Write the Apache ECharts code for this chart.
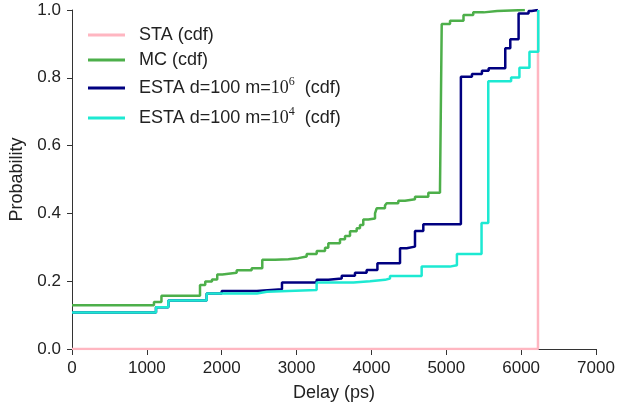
<!DOCTYPE html>
<html>
<head>
<meta charset="utf-8">
<script src="https://cdn.jsdelivr.net/npm/echarts@6/dist/echarts.min.js"></script>
<style>
html, body { margin: 0; padding: 0; background: #fff; }
#main { width: 626px; height: 404px; }
</style>
</head>
<body>
<div id="main"></div>
<script>
// step cdf data, each y holds from its x until the next x
var staX = [0, 6225, 6225];
var staY = [0, 0, 1];

var mcX = [0, 1095, 1195, 1710, 1780, 1870, 1940, 2008, 2200, 2400, 2542, 2712, 2890, 3023, 3135, 3269, 3380, 3424, 3580, 3647, 3714, 3803, 3847, 3891, 3958, 4048, 4070, 4181, 4204, 4359, 4449, 4582, 4760, 4916, 4939, 5050, 5230, 5360, 5500, 5680, 6050];
var mcY = [0.129, 0.139, 0.157, 0.189, 0.199, 0.205, 0.220, 0.225, 0.232, 0.238, 0.263, 0.265, 0.268, 0.273, 0.280, 0.289, 0.299, 0.312, 0.324, 0.333, 0.347, 0.356, 0.366, 0.382, 0.385, 0.400, 0.415, 0.423, 0.430, 0.437, 0.442, 0.449, 0.461, 0.471, 0.959, 0.968, 0.985, 0.993, 0.997, 1.0, 1.0];

var esta6X = [0, 1122, 1287, 1799, 2000, 2470, 2805, 3268, 3425, 3603, 3780, 3936, 4080, 4382, 4471, 4582, 4693, 5195, 5343, 5476, 5566, 5788, 5855, 5966, 6099, 6140, 6225];
var esta6Y = [0.108, 0.123, 0.143, 0.164, 0.171, 0.176, 0.196, 0.204, 0.208, 0.216, 0.225, 0.233, 0.253, 0.297, 0.302, 0.348, 0.368, 0.803, 0.811, 0.821, 0.828, 0.887, 0.914, 0.990, 0.997, 1.0, 1.0];

var esta4X = [0, 1122, 1287, 1799, 2470, 2604, 3268, 3760, 3981, 4181, 4248, 4671, 5048, 5142, 5471, 5561, 5866, 5977, 6111, 6229, 6229];
var esta4Y = [0.108, 0.123, 0.143, 0.164, 0.169, 0.174, 0.196, 0.200, 0.204, 0.208, 0.215, 0.243, 0.247, 0.280, 0.372, 0.790, 0.801, 0.830, 0.877, 0.877, 1.0];

var names = ['STA (cdf)', 'MC (cdf)', 'ESTA d=100 m=10^6  (cdf)', 'ESTA d=100 m=10^4  (cdf)'];
var colors = ['#ffb6c1', '#4daf4a', '#000080', '#1de9d2'];
var legendTops = [33, 58, 87, 117];

function pairs(xs, ys) {
    var out = [];
    for (var i = 0; i < xs.length; i++) out.push([xs[i], ys[i]]);
    return out;
}

var seriesData = [pairs(staX, staY), pairs(mcX, mcY), pairs(esta6X, esta6Y), pairs(esta4X, esta4Y)];

var myChart = echarts.init(document.getElementById('main'));
var option = {
    animation: false,
    textStyle: { fontFamily: 'Liberation Sans' },
    grid: { left: 72, right: 30, top: 10, bottom: 55, outerBoundsMode: 'none' },
    legend: names.map(function (n, i) {
        var rich = n.indexOf('^') >= 0;
        return {
            data: [n],
            left: 83,
            top: legendTops[i] - (rich ? 16 : 12),
            icon: 'rect',
            itemWidth: 37,
            itemHeight: 3,
            formatter: function (name) {
                var m = name.match(/^(.*m=)10\^(\d)(.*)$/);
                if (!m) return '{a|' + name + '}';
                return '{a|' + m[1] + '}{b|10}{c|' + m[2] + '}{a|' + m[3] + '}';
            },
            textStyle: {
                padding: [0, 0, 0, 9],
                rich: {
                    a: { fontSize: 18, color: '#222', fontFamily: 'Liberation Sans', lineHeight: 24 },
                    b: { fontSize: 18, color: '#222', fontFamily: 'Liberation Serif', lineHeight: 24 },
                    c: { fontSize: 12, color: '#222', fontFamily: 'Liberation Serif', lineHeight: 14, verticalAlign: 'top' }
                }
            }
        };
    }),
    xAxis: {
        type: 'value',
        min: 0,
        max: 7000,
        interval: 1000,
        name: 'Delay (ps)',
        nameLocation: 'middle',
        nameGap: 35,
        nameTextStyle: { fontSize: 18, color: '#222' },
        axisLine: { lineStyle: { color: '#333', width: 1 } },
        axisTick: { length: 6, lineStyle: { color: '#333' } },
        axisLabel: {
            fontSize: 17, color: '#222', margin: 11,
            formatter: function (v) { return String(v); }
        },
        splitLine: { show: false }
    },
    yAxis: {
        type: 'value',
        min: 0,
        max: 1,
        interval: 0.2,
        name: 'Probability',
        nameLocation: 'middle',
        nameGap: 45,
        nameTextStyle: { fontSize: 18, color: '#222' },
        axisLine: { show: true, lineStyle: { color: '#333', width: 1 } },
        axisTick: { show: true, length: 5, lineStyle: { color: '#333' } },
        axisLabel: {
            fontSize: 17, color: '#222', margin: 11,
            formatter: function (v) { return v.toFixed(1); }
        },
        splitLine: { show: false }
    },
    series: names.map(function (n, i) {
        return {
            name: n,
            type: 'line',
            step: 'end',
            symbol: 'none',
            data: seriesData[i],
            itemStyle: { color: colors[i] },
            lineStyle: { color: colors[i], width: 2.5 }
        };
    })
};
myChart.setOption(option);
</script>
</body>
</html>
